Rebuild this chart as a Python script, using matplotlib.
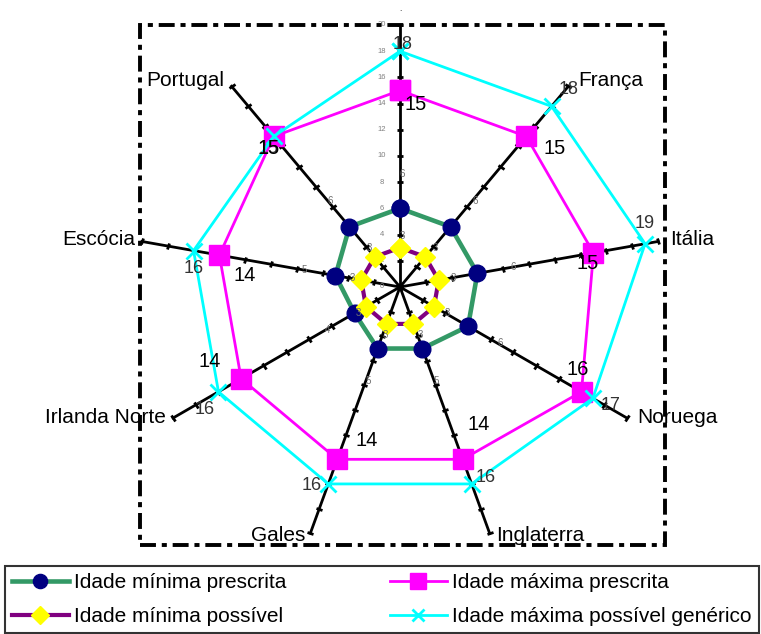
import matplotlib.pyplot as plt
import numpy as np
from matplotlib.lines import Line2D
from matplotlib.patches import Rectangle
from matplotlib.markers import MarkerStyle
from matplotlib.transforms import Affine2D

plt.rcParams['font.family'] = ['Liberation Sans', 'DejaVu Sans']

# data
categories = ['.', 'França', 'Itália', 'Noruega', 'Inglaterra', 'Gales', 'Irlanda Norte', 'Escócia', 'Portugal']
min_prescrita = [6, 6, 6, 6, 5, 5, 4, 5, 6]
min_possivel = [3, 3, 3, 3, 3, 3, 3, 3, 3]
max_prescrita = [15, 15, 15, 16, 14, 14, 14, 14, 15]
max_possivel = [18, 18, 19, 17, 16, 16, 16, 16, 15]
axis_ticks = list(range(0, 21, 2))

n = len(categories)
theta = np.arange(n) * 2 * np.pi / n

fig = plt.figure(figsize=(7.61, 6.34), dpi=100)
ax = fig.add_axes([0.1813, 0.1341, 0.6886, 0.8265], projection='polar')
ax.set_theta_zero_location('N')
ax.set_theta_direction(-1)
ax.set_ylim(0, 20)
ax.axis('off')

# spokes with tick marks
for t in theta:
    ax.plot([t, t], [0, 20], color='black', lw=2, clip_on=False, zorder=1)
    tick = MarkerStyle('_', transform=Affine2D().rotate_deg(-np.degrees(t)))
    ax.plot([t] * len(axis_ticks), axis_ticks, ls='none', marker=tick, ms=5, mew=2,
            color='black', clip_on=False, zorder=1)

# axis labels on the first spoke
for v in axis_ticks:
    ax.annotate(str(v), (0, v), xytext=(-18, 0), textcoords='offset pixels',
                ha='center', va='center', fontsize=5.5, color='#808080')

def closed(vals):
    return np.append(theta, theta[0]), np.append(vals, vals[0])

series = [
    (min_prescrita, dict(color='#339966', lw=3.3, marker='o', ms=12, mfc='#000080', mec='#000080'), 'Idade mínima prescrita'),
    (min_possivel, dict(color='#800080', lw=3, marker='D', ms=10.5, mfc='#FFFF00', mec='#FFFF00'), 'Idade mínima possível'),
    (max_prescrita, dict(color='#FF00FF', lw=2, marker='s', ms=14, mfc='#FF00FF', mec='#FF00FF'), 'Idade máxima prescrita'),
    (max_possivel, dict(color='#00FFFF', lw=2, marker='x', ms=11, mew=2, mec='#00FFFF'), 'Idade máxima possível genérico'),
]
for vals, st, lab in series:
    tt, rr = closed(vals)
    ax.plot(tt, rr, clip_on=False, zorder=3, **st)

# small data labels, pushed outward along the spokes
for t, v in zip(theta, min_prescrita):
    ax.annotate(str(v), (t, v), xytext=(t, v + 2.6), textcoords='data',
                ha='left', va='center', fontsize=7, color='#707070', zorder=2)
for t, v in zip(theta, min_possivel):
    ax.annotate(str(v), (t, v), xytext=(t, v + 0.9), textcoords='data',
                ha='left', va='center', fontsize=7, color='#707070', zorder=4)

poss_off = [(3, 7), (17, 17), (0, 20), (18, -7), (14, 6), (-17, -2), (-14, -18), (0, -18), (-5, -12)]
for t, v, o in zip(theta, max_possivel, poss_off):
    ax.annotate(str(v), (t, v), xytext=o, textcoords='offset pixels',
                ha='center', va='center', fontsize=13, color='#333333', zorder=5)

presc_off = [(16, -14), (28, -12), (-6, -11), (-4, 22), (16, 35), (29, 19), (-31, 17), (25, -20), (-5, -12)]
for t, v, o in zip(theta, max_prescrita, presc_off):
    ax.annotate(str(v), (t, v), xytext=o, textcoords='offset pixels',
                ha='center', va='center', fontsize=14.5, color='black', zorder=5)

# category labels
cat_off = [(0, 15), (10, 6), (12, 2), (10, 0), (7, -2), (-5, -2), (-7, 0), (-7, 2), (-7, 6)]
cat_ha = ['center', 'left', 'left', 'left', 'left', 'right', 'right', 'right', 'right']
for t, c, o, h in zip(theta, categories, cat_off, cat_ha):
    ax.annotate(c, (t, 20), xytext=o, textcoords='offset pixels',
                ha=h, va='center', fontsize=15 if c != '.' else 6, color='black')

# dash-dot plot area border
fig.add_artist(Rectangle((140 / 761, 1 - 545 / 634), 525 / 761, 520 / 634,
                         transform=fig.transFigure, fill=False, lw=2.8,
                         ls=(0, (4.1, 1.5, 1.3, 1.5)), color='black'))

# legend (filled column-wise)
handles = [Line2D([], [], **s[1]) for s in series]
labels = [s[2] for s in series]
for h in handles:
    h.set_markersize(h.get_markersize() * 0.85)
leg = fig.legend(handles, labels, loc='upper left', bbox_to_anchor=(5 / 761, 1 - 566 / 634),
                 ncol=2, fontsize=15, frameon=True, fancybox=False, edgecolor='black',
                 borderaxespad=0, handlelength=2.7, handletextpad=0.25, columnspacing=5.0,
                 labelspacing=0.7, borderpad=0.35)
leg.get_frame().set_linewidth(1.5)

fig.savefig('out.png', dpi=100)
